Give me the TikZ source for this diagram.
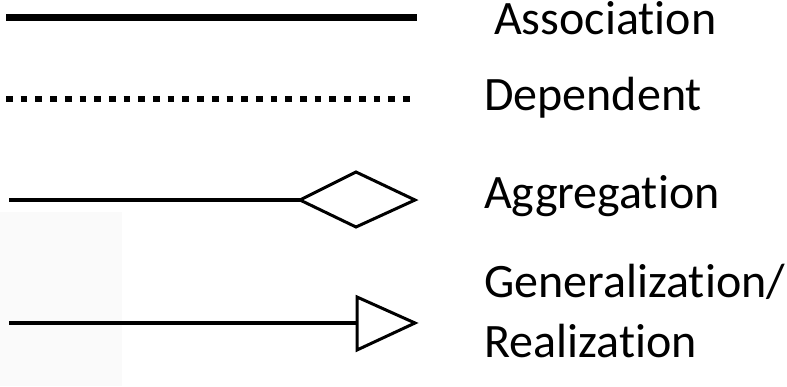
\documentclass[tikz,border=0pt]{standalone}
\usepackage{fontspec}
\setmainfont[Ligatures=NoCommon]{Carlito}
\begin{document}
\begin{tikzpicture}[x=1pt,y=-1pt,
  label/.style={anchor=base west,inner sep=0pt,font=\fontsize{48}{60}\selectfont},
  assoc/.style={line width=7pt},
  depend/.style={line width=6.7pt,dash pattern=on 6.7pt off 8pt},
  thinline/.style={line width=4pt},
  headshape/.style={line width=3pt,line join=miter,fill=white}]
  \useasboundingbox (0,0) rectangle (787,386);
  % faint panel behind the lower left
  \fill[black!2] (0,212) rectangle (122,386);

  % Association
  \coordinate (a1) at (6,17);
  \coordinate (a2) at (417,17);
  \draw[assoc] (a1) -- (a2);
  \node[label] (la) at (494,34) {Association};

  % Dependent
  \coordinate (d1) at (6,99);
  \coordinate (d2) at (410,99);
  \draw[depend] (d1) -- (d2);
  \node[label] (ld) at (484,110) {Dependent};

  % Aggregation
  \coordinate (g1) at (9,200);
  \coordinate (g2) at (300,200);
  \coordinate (gt) at (356,172);
  \coordinate (gr) at (415,200);
  \coordinate (gb) at (356,227);
  \draw[thinline] (g1) -- (g2);
  \draw[headshape] (g2) -- (gt) -- (gr) -- (gb) -- cycle;
  \node[label] (lg) at (484,208) {Aggregation};

  % Generalization / Realization
  \coordinate (r1) at (9,323);
  \coordinate (r2) at (357,323);
  \coordinate (rt) at (357,297);
  \coordinate (rp) at (415,323);
  \coordinate (rb) at (357,350);
  \draw[thinline] (r1) -- (r2);
  \draw[headshape] (rt) -- (rp) -- (rb) -- cycle;
  \node[label] (lr1) at (484,297) {Generalization/};
  \node[label] (lr2) at (484,357) {Realization};
\end{tikzpicture}
\end{document}
